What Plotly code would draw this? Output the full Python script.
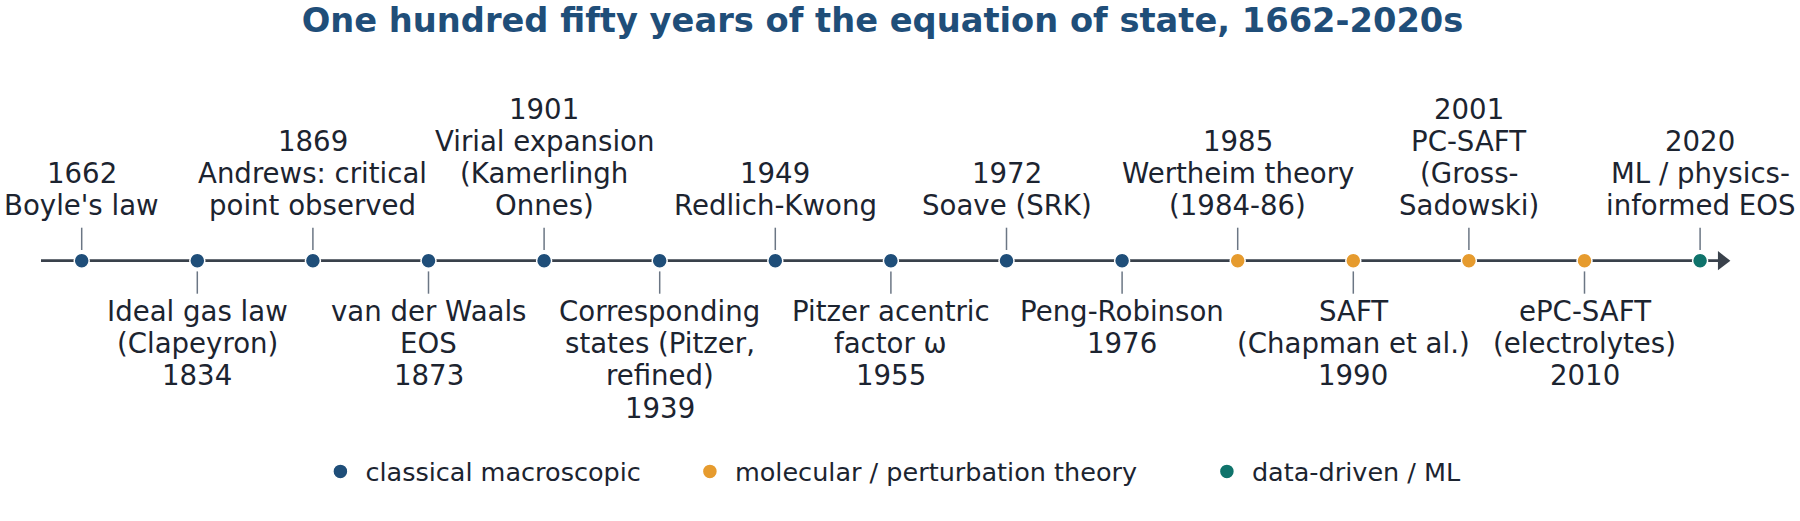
import plotly.graph_objects as go

# ---------------- data ----------------
years = [1662, 1834, 1869, 1873, 1901, 1939, 1949, 1955, 1972, 1976,
         1985, 1990, 2001, 2010, 2020]
event_names = [
    "Boyle's law",
    "Ideal gas law<br>(Clapeyron)",
    "Andrews: critical<br>point observed",
    "van der Waals<br>EOS",
    "Virial expansion<br>(Kamerlingh<br>Onnes)",
    "Corresponding<br>states (Pitzer,<br>refined)",
    "Redlich-Kwong",
    "Pitzer acentric<br>factor ω",
    "Soave (SRK)",
    "Peng-Robinson",
    "Wertheim theory<br>(1984-86)",
    "SAFT<br>(Chapman et al.)",
    "PC-SAFT<br>(Gross-<br>Sadowski)",
    "ePC-SAFT<br>(electrolytes)",
    "ML / physics-<br>informed EOS",
]
event_category = ["classical"] * 10 + ["molecular"] * 4 + ["data"]
category_keys = ["classical", "molecular", "data"]
category_labels = ["classical macroscopic", "molecular / perturbation theory", "data-driven / ML"]
category_colors = ["#1f4e79", "#e69b2e", "#0f736b"]

# ---------------- style ----------------
FONT = "DejaVu Sans"
TEXT_COLOR = "#1c2430"
AXIS_COLOR = "#39414b"
STEM_COLOR = "#6b7684"
LABEL_SIZE = 27.6
LINE_PITCH = 32.3
UP_BASE = 45.2      # px from axis to baseline of the lowest line above
DOWN_BASE = 60.0    # px from axis to baseline of the first line below
MID_OFF = 0.346 * LABEL_SIZE
STEM_IN, STEM_OUT = 10.7, 33.0

W, H = 1800, 521
PX_PER_STEP = 115.6
X0_PX = 81.7
AXIS_Y_PX = 260.7

n = len(years)
idx = list(range(n))
side = [1 if i % 2 == 0 else -1 for i in idx]   # +1 above, -1 below

fig = go.Figure()

# main axis line
line_start = -0.352
line_end = (n - 1) + 0.16
fig.add_trace(go.Scatter(x=[line_start, line_end], y=[0, 0], mode="lines",
                         line=dict(color=AXIS_COLOR, width=2.7),
                         hoverinfo="skip", showlegend=False))
# arrow head
fig.add_trace(go.Scatter(x=[(n - 1) + 0.19], y=[0], mode="markers",
                         marker=dict(symbol="triangle-right", size=16.6, color=AXIS_COLOR,
                                     line=dict(width=0)),
                         hoverinfo="skip", showlegend=False))

# stems
sx, sy = [], []
for i in idx:
    sx += [i, i, None]
    sy += [side[i] * STEM_IN, side[i] * STEM_OUT, None]
fig.add_trace(go.Scatter(x=sx, y=sy, mode="lines",
                         line=dict(color=STEM_COLOR, width=1.5),
                         hoverinfo="skip", showlegend=False))

# event dots per category
legend_widths = [314.5, 462, None]
for key, lab, col, lw in zip(category_keys, category_labels, category_colors, legend_widths):
    xs = [i for i in idx if event_category[i] == key]
    tr = go.Scatter(x=xs, y=[0] * len(xs), mode="markers", name=lab,
                    marker=dict(size=15, color=col, line=dict(color="white", width=1.5)),
                    text=[str(years[i]) for i in xs], hoverinfo="text")
    if lw:
        tr.legendwidth = lw
    fig.add_trace(tr)

# labels (one annotation per line to control line pitch)
for i in idx:
    name_lines = event_names[i].split("<br>")
    if side[i] > 0:
        lines = [str(years[i])] + name_lines
        m = len(lines)
        for k, t in enumerate(lines):
            base = UP_BASE + (m - 1 - k) * LINE_PITCH
            fig.add_annotation(x=i, y=base + MID_OFF, text=t, showarrow=False,
                               xanchor="center", yanchor="middle",
                               font=dict(family=FONT, size=LABEL_SIZE, color=TEXT_COLOR))
    else:
        lines = name_lines + [str(years[i])]
        for k, t in enumerate(lines):
            base = DOWN_BASE + k * LINE_PITCH
            fig.add_annotation(x=i, y=-base + MID_OFF, text=t, showarrow=False,
                               xanchor="center", yanchor="middle",
                               font=dict(family=FONT, size=LABEL_SIZE, color=TEXT_COLOR))

x_min = -X0_PX / PX_PER_STEP
x_max = (W - X0_PX) / PX_PER_STEP
fig.update_layout(
    width=W, height=H, autosize=False,
    margin=dict(l=0, r=0, t=0, b=0),
    paper_bgcolor="white", plot_bgcolor="white",
    font=dict(family=FONT, color=TEXT_COLOR),
    title=dict(text="<b>One hundred fifty years of the equation of state, 1662-2020s</b>",
               x=882.5 / W, xanchor="center", xref="paper",
               y=1 - 20.4 / H, yanchor="middle", yref="container",
               font=dict(family=FONT, size=33.7, color="#1f4e79")),
    xaxis=dict(range=[x_min, x_max], visible=False, fixedrange=True),
    yaxis=dict(range=[-(H - AXIS_Y_PX), AXIS_Y_PX], visible=False, fixedrange=True),
    showlegend=True,
    legend=dict(orientation="h", x=315.4 / W, xanchor="left",
                y=(H - 471.8) / H, yanchor="middle", itemwidth=40,
                font=dict(family=FONT, size=25.5, color=TEXT_COLOR),
                bgcolor="rgba(0,0,0,0)", borderwidth=0),
)

# the page's default 8px body margin would shift and clip the figure
fig.write_html("out.html", config={"displayModeBar": False},
               post_script="document.body.style.margin='0px';")
